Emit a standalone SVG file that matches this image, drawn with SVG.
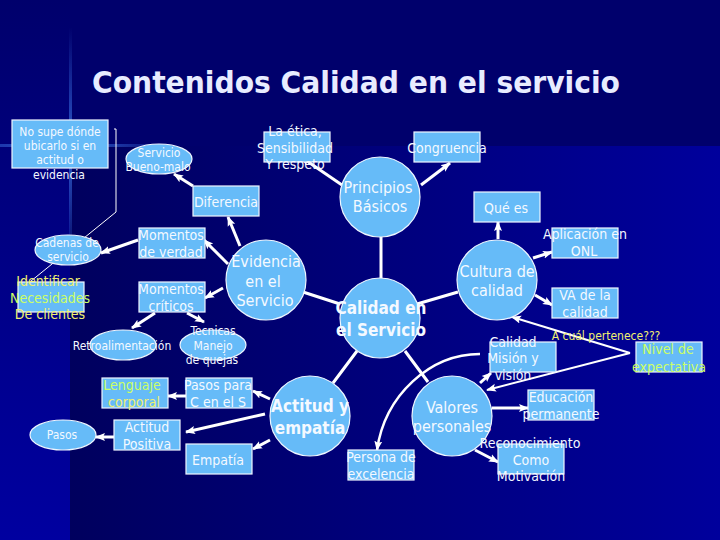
<svg xmlns="http://www.w3.org/2000/svg" width="720" height="540" viewBox="0 0 720 540">
<style>
.b{fill:#66bbf8;stroke:#eef6ff;stroke-width:1.2}
text{font-family:"DejaVu Sans Condensed","DejaVu Sans",sans-serif;font-size:14px;fill:#f4f9ff;text-anchor:middle}
.s{font-size:12px}
.m{font-size:16px}
.y{fill:#f0f070}
.g{fill:#ccff66}
.k{font-weight:bold;font-size:17px}
.c{stroke:#fff;stroke-width:3;fill:none}
.t{stroke:#fff;stroke-width:2;fill:none}
.a{marker-end:url(#ah)}
</style>
<defs>
<marker id="ah" markerUnits="userSpaceOnUse" markerWidth="10" markerHeight="10" refX="9" refY="5" orient="auto"><path d="M0 1L10 5L0 9L2 5Z" fill="#fff"/></marker>
<linearGradient id="lo" x1="0" x2="1" y1="0" y2="0"><stop offset="0" stop-color="#00005e"/><stop offset="1" stop-color="#00009c"/></linearGradient>
<linearGradient id="lft" x1="0" x2="0" y1="0" y2="1"><stop offset="0" stop-color="#00006c"/><stop offset="1" stop-color="#0000a0"/></linearGradient>
<linearGradient id="vg" x1="0" x2="0" y1="0" y2="1"><stop offset="0.05" stop-color="#3a70e0" stop-opacity="0"/><stop offset="0.27" stop-color="#3a70e0" stop-opacity=".8"/><stop offset="0.5" stop-color="#3a70e0" stop-opacity="0"/></linearGradient>
<linearGradient id="hg" x1="0" x2="1" y1="0" y2="0"><stop offset="0" stop-color="#3a70e0" stop-opacity=".5"/><stop offset="0.1" stop-color="#3a70e0" stop-opacity=".8"/><stop offset="0.25" stop-color="#3a70e0" stop-opacity="0"/></linearGradient>
</defs>
<rect width="720" height="540" fill="#00006c"/>
<rect x="70" y="146" width="650" height="394" fill="url(#lo)"/>
<rect x="0" y="0" width="70" height="540" fill="url(#lft)"/>
<rect x="69" y="0" width="3" height="540" fill="url(#vg)"/>
<rect x="0" y="144" width="720" height="3" fill="url(#hg)"/>
<text x="356" y="93" textLength="528" lengthAdjust="spacingAndGlyphs" style="font-family:'DejaVu Sans Condensed','DejaVu Sans',sans-serif;font-weight:bold;font-size:30px;fill:#e8ecff">Contenidos Calidad en el servicio</text>
<g id="connectors">
<path class="c" d="M381 237V278M303 292L340 304M417 304L458 292"/>
<path class="c" d="M357 351L333 383M405 351L428 382"/>
<path class="c a" d="M342 185L301 157"/>
<path class="c a" d="M421 185L450 163"/>
<path class="c a" d="M193 186L174 174"/>
<path class="c a" d="M240 246L228 217"/>
<path class="c a" d="M228 264L204 240"/>
<path class="c a" d="M138 240L101 253"/>
<path class="c a" d="M223 288L205 298"/>
<path class="c a" d="M155 313L132 328"/>
<path class="c a" d="M187 313L204 322"/>
<path class="c a" d="M186 396H168"/>
<path class="c a" d="M270 399L253 391"/>
<path class="c a" d="M265 414L186 432"/>
<path class="c a" d="M270 440L253 449"/>
<path class="c a" d="M114 437H96"/>
<path class="c a" d="M498 239V222"/>
<path class="c a" d="M533 258L552 252"/>
<path class="c a" d="M535 295L552 305"/>
<path class="c a" d="M480 383L491 373"/>
<path class="c a" d="M492 408H528"/>
<path class="c a" d="M475 450L498 462"/>
<path class="t a" d="M480 354C430 354 385 395 377 450" style="stroke-width:2.5"/>
<path class="t a" d="M630 353L512 317"/>
<path class="t a" d="M630 353L487 390"/>
<path fill="none" stroke="#fff" stroke-width="1" d="M114 129H116V212L20 290"/>
</g>
<g id="n1"><rect class="b" x="12" y="120" width="96" height="48"/><text class="s"><tspan x="60" y="136">No supe dónde</tspan><tspan x="60" y="150">ubicarlo si en</tspan><tspan x="60" y="164">actitud o</tspan><tspan x="59" y="179">evidencia</tspan></text></g>
<g id="n2"><ellipse class="b" cx="159" cy="159" rx="33" ry="15"/><text class="s"><tspan x="159" y="157">Servicio</tspan><tspan x="158" y="171">Bueno-malo</tspan></text></g>
<g id="n3"><rect class="b" x="193" y="186" width="66" height="30"/><text x="226" y="207">Diferencia</text></g>
<g id="n4"><ellipse class="b" cx="68" cy="250" rx="33" ry="15"/><text class="s"><tspan x="67" y="247">Cadenas de</tspan><tspan x="68" y="261">servicio</tspan></text></g>
<g id="n5"><rect class="b" x="139" y="228" width="66" height="30"/><text><tspan x="171" y="240">Momentos</tspan><tspan x="171" y="257">de verdad</tspan></text></g>
<g id="n6"><rect class="b" x="18" y="282" width="66" height="30"/><text><tspan class="y" x="48" y="286">Identificar</tspan><tspan class="g" x="50" y="303">Necesidades</tspan><tspan class="y" x="50" y="319">De clientes</tspan></text></g>
<g id="n7"><rect class="b" x="139" y="282" width="66" height="30"/><text><tspan x="171" y="294">Momentos</tspan><tspan x="171" y="311">críticos</tspan></text></g>
<g id="n8"><ellipse class="b" cx="123" cy="345" rx="33" ry="15"/><text class="s" x="122" y="350">Retroalimentación</text></g>
<g id="n9"><ellipse class="b" cx="213" cy="345" rx="33" ry="15"/><text class="s"><tspan x="213" y="335">Tecnicas</tspan><tspan x="213" y="350">Manejo</tspan><tspan x="212" y="364">de quejas</tspan></text></g>
<g id="n10"><rect class="b" x="102" y="378" width="66" height="30"/><text><tspan class="g" x="132" y="390">Lenguaje</tspan><tspan class="y" x="134" y="407">corporal</tspan></text></g>
<g id="n11"><rect class="b" x="186" y="378" width="66" height="30"/><text><tspan x="218" y="390">Pasos para</tspan><tspan x="218" y="407">C en el S</tspan></text></g>
<g id="n12"><rect class="b" x="114" y="420" width="66" height="30"/><text><tspan x="147" y="432">Actitud</tspan><tspan x="147" y="449">Positiva</tspan></text></g>
<g id="n13"><ellipse class="b" cx="63" cy="435" rx="33" ry="15"/><text class="s" x="62" y="439">Pasos</text></g>
<g id="n14"><rect class="b" x="186" y="444" width="66" height="30"/><text x="218" y="465">Empatía</text></g>
<g id="n15"><rect class="b" x="264" y="132" width="66" height="30"/><text><tspan x="295" y="136">La ética,</tspan><tspan x="295" y="153">Sensibilidad</tspan><tspan x="295" y="169">Y respeto</tspan></text></g>
<g id="n16"><rect class="b" x="414" y="132" width="66" height="30"/><text x="447" y="153">Congruencia</text></g>
<g id="n17"><circle class="b" cx="380" cy="197" r="40"/><text class="m"><tspan x="378" y="193">Principios</tspan><tspan x="380" y="212">Básicos</tspan></text></g>
<g id="n18"><rect class="b" x="474" y="192" width="66" height="30"/><text x="506" y="213">Qué es</text></g>
<g id="n19"><circle class="b" cx="266" cy="280" r="40"/><text class="m"><tspan x="266" y="267">Evidencia</tspan><tspan x="263" y="287">en el</tspan><tspan x="265" y="306">Servicio</tspan></text></g>
<g id="n20"><circle class="b" cx="380" cy="318" r="40"/><text class="k"><tspan x="381" y="314">Calidad en</tspan><tspan x="381" y="336">el Servicio</tspan></text></g>
<g id="n21"><circle class="b" cx="497" cy="280" r="40"/><text class="m"><tspan x="497" y="277">Cultura de</tspan><tspan x="497" y="296">calidad</tspan></text></g>
<g id="n22"><rect class="b" x="552" y="228" width="66" height="30"/><text><tspan x="585" y="239">Aplicación en</tspan><tspan x="584" y="256">ONL</tspan></text></g>
<g id="n23"><rect class="b" x="552" y="288" width="66" height="30"/><text><tspan x="585" y="300">VA de la</tspan><tspan x="585" y="317">calidad</tspan></text></g>
<g id="n24"><rect class="b" x="490" y="342" width="66" height="30"/><text><tspan x="513" y="347">Calidad</tspan><tspan x="513" y="363">Misión y</tspan><tspan x="513" y="380">visión</tspan></text></g>
<text class="s y" x="606" y="340">A cuál pertenece???</text>
<g id="n25"><rect class="b" x="636" y="342" width="66" height="30"/><text><tspan class="g" x="668" y="354">Nivel de</tspan><tspan class="g" x="669" y="372">expectativa</tspan></text></g>
<g id="n26"><circle class="b" cx="310" cy="416" r="40"/><text class="k"><tspan x="310" y="412">Actitud y</tspan><tspan x="310" y="434">empatía</tspan></text></g>
<g id="n27"><circle class="b" cx="452" cy="416" r="40"/><text class="m"><tspan x="452" y="413">Valores</tspan><tspan x="452" y="432">personales</tspan></text></g>
<g id="n28"><rect class="b" x="348" y="450" width="66" height="30"/><text><tspan x="381" y="462">Persona de</tspan><tspan x="381" y="479">excelencia</tspan></text></g>
<g id="n29"><rect class="b" x="528" y="390" width="66" height="30"/><text><tspan x="561" y="402">Educación</tspan><tspan x="561" y="419">permanente</tspan></text></g>
<g id="n30"><rect class="b" x="498" y="444" width="66" height="30"/><text><tspan x="530" y="448">Reconocimiento</tspan><tspan x="531" y="465">Como</tspan><tspan x="531" y="481">Motivación</tspan></text></g>
</svg>
